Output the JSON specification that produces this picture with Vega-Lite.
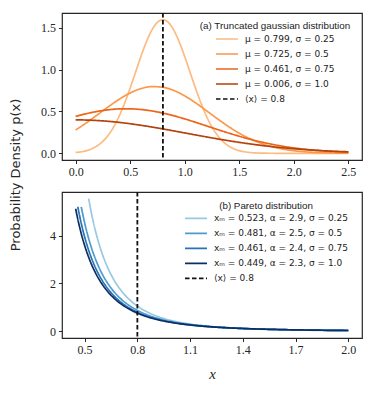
{
  "$schema": "https://vega.github.io/schema/vega-lite/v6.json",
  "padding": {"left": 8, "top": 11, "right": 0, "bottom": 0},
  "spacing": 32,
  "bounds": "flush",
  "config": {
    "view": {"stroke": "#262626", "strokeWidth": 1.2},
    "axis": {
      "domain": false, "grid": false, "ticks": true, "tickSize": 3.5, "tickColor": "#262626", "tickWidth": 1,
      "labelFont": "Liberation Serif", "labelFontSize": 12, "labelColor": "#262626", "labelPadding": 3,
      "titleFont": "DejaVu Sans", "titleFontSize": 13, "titleFontWeight": "normal", "titleColor": "#262626"
    },
    "legend": {
      "orient": "none", "padding": 0, "symbolType": "stroke", "symbolSize": 484, "symbolStrokeWidth": 1.7,
      "clipHeight": 14.3, "rowPadding": 0, "labelOffset": 6, "labelFont": "DejaVu Sans", "labelFontSize": 9, "labelColor": "#222222",
      "labelLimit": 300, "titleFont": "Liberation Sans", "titleFontSize": 9.8, "titleFontWeight": "normal", "titleColor": "#222222",
      "titleAnchor": "middle", "titleAlign": "center", "titlePadding": 0.75, "titleLimit": 300
    }
  },
  "resolve": {"scale": {"x": "independent", "y": "independent", "color": "independent", "strokeDash": "independent"}},
  "datasets": {
    "gauss": [
      {"s": "μ = 0.799, σ = 0.25", "x": 0.0, "p": 0.0097},
      {"s": "μ = 0.799, σ = 0.25", "x": 0.05, "p": 0.0179},
      {"s": "μ = 0.799, σ = 0.25", "x": 0.1, "p": 0.0320},
      {"s": "μ = 0.799, σ = 0.25", "x": 0.15, "p": 0.0549},
      {"s": "μ = 0.799, σ = 0.25", "x": 0.2, "p": 0.0905},
      {"s": "μ = 0.799, σ = 0.25", "x": 0.25, "p": 0.1432},
      {"s": "μ = 0.799, σ = 0.25", "x": 0.3, "p": 0.2177},
      {"s": "μ = 0.799, σ = 0.25", "x": 0.35, "p": 0.3180},
      {"s": "μ = 0.799, σ = 0.25", "x": 0.4, "p": 0.4466},
      {"s": "μ = 0.799, σ = 0.25", "x": 0.45, "p": 0.6023},
      {"s": "μ = 0.799, σ = 0.25", "x": 0.5, "p": 0.7805},
      {"s": "μ = 0.799, σ = 0.25", "x": 0.55, "p": 0.9717},
      {"s": "μ = 0.799, σ = 0.25", "x": 0.6, "p": 1.1625},
      {"s": "μ = 0.799, σ = 0.25", "x": 0.65, "p": 1.3361},
      {"s": "μ = 0.799, σ = 0.25", "x": 0.7, "p": 1.4754},
      {"s": "μ = 0.799, σ = 0.25", "x": 0.75, "p": 1.5654},
      {"s": "μ = 0.799, σ = 0.25", "x": 0.8, "p": 1.5958},
      {"s": "μ = 0.799, σ = 0.25", "x": 0.85, "p": 1.5629},
      {"s": "μ = 0.799, σ = 0.25", "x": 0.9, "p": 1.4707},
      {"s": "μ = 0.799, σ = 0.25", "x": 0.95, "p": 1.3297},
      {"s": "μ = 0.799, σ = 0.25", "x": 1.0, "p": 1.1551},
      {"s": "μ = 0.799, σ = 0.25", "x": 1.05, "p": 0.9640},
      {"s": "μ = 0.799, σ = 0.25", "x": 1.1, "p": 0.7730},
      {"s": "μ = 0.799, σ = 0.25", "x": 1.15, "p": 0.5956},
      {"s": "μ = 0.799, σ = 0.25", "x": 1.2, "p": 0.4409},
      {"s": "μ = 0.799, σ = 0.25", "x": 1.25, "p": 0.3136},
      {"s": "μ = 0.799, σ = 0.25", "x": 1.3, "p": 0.2143},
      {"s": "μ = 0.799, σ = 0.25", "x": 1.35, "p": 0.1407},
      {"s": "μ = 0.799, σ = 0.25", "x": 1.4, "p": 0.0887},
      {"s": "μ = 0.799, σ = 0.25", "x": 1.45, "p": 0.0537},
      {"s": "μ = 0.799, σ = 0.25", "x": 1.5, "p": 0.0313},
      {"s": "μ = 0.799, σ = 0.25", "x": 1.6, "p": 0.0094},
      {"s": "μ = 0.799, σ = 0.25", "x": 1.7, "p": 0.0024},
      {"s": "μ = 0.799, σ = 0.25", "x": 1.8, "p": 0.0005},
      {"s": "μ = 0.799, σ = 0.25", "x": 1.9, "p": 0.0001},
      {"s": "μ = 0.799, σ = 0.25", "x": 2.0, "p": 0.0},
      {"s": "μ = 0.799, σ = 0.25", "x": 2.25, "p": 0.0},
      {"s": "μ = 0.799, σ = 0.25", "x": 2.5, "p": 0.0},
      {"s": "μ = 0.725, σ = 0.5", "x": 0.0, "p": 0.2788},
      {"s": "μ = 0.725, σ = 0.5", "x": 0.1, "p": 0.3653},
      {"s": "μ = 0.725, σ = 0.5", "x": 0.2, "p": 0.4598},
      {"s": "μ = 0.725, σ = 0.5", "x": 0.3, "p": 0.5560},
      {"s": "μ = 0.725, σ = 0.5", "x": 0.4, "p": 0.6459},
      {"s": "μ = 0.725, σ = 0.5", "x": 0.5, "p": 0.7210},
      {"s": "μ = 0.725, σ = 0.5", "x": 0.6, "p": 0.7733},
      {"s": "μ = 0.725, σ = 0.5", "x": 0.7, "p": 0.7969},
      {"s": "μ = 0.725, σ = 0.5", "x": 0.8, "p": 0.7890},
      {"s": "μ = 0.725, σ = 0.5", "x": 0.9, "p": 0.7505},
      {"s": "μ = 0.725, σ = 0.5", "x": 1.0, "p": 0.6859},
      {"s": "μ = 0.725, σ = 0.5", "x": 1.1, "p": 0.6023},
      {"s": "μ = 0.725, σ = 0.5", "x": 1.2, "p": 0.5081},
      {"s": "μ = 0.725, σ = 0.5", "x": 1.3, "p": 0.4119},
      {"s": "μ = 0.725, σ = 0.5", "x": 1.4, "p": 0.3208},
      {"s": "μ = 0.725, σ = 0.5", "x": 1.5, "p": 0.2400},
      {"s": "μ = 0.725, σ = 0.5", "x": 1.6, "p": 0.1726},
      {"s": "μ = 0.725, σ = 0.5", "x": 1.7, "p": 0.1192},
      {"s": "μ = 0.725, σ = 0.5", "x": 1.8, "p": 0.0791},
      {"s": "μ = 0.725, σ = 0.5", "x": 1.9, "p": 0.0504},
      {"s": "μ = 0.725, σ = 0.5", "x": 2.0, "p": 0.0309},
      {"s": "μ = 0.725, σ = 0.5", "x": 2.1, "p": 0.0182},
      {"s": "μ = 0.725, σ = 0.5", "x": 2.2, "p": 0.0103},
      {"s": "μ = 0.725, σ = 0.5", "x": 2.3, "p": 0.0056},
      {"s": "μ = 0.725, σ = 0.5", "x": 2.4, "p": 0.0029},
      {"s": "μ = 0.725, σ = 0.5", "x": 2.5, "p": 0.0015},
      {"s": "μ = 0.461, σ = 0.75", "x": 0.0, "p": 0.4404},
      {"s": "μ = 0.461, σ = 0.75", "x": 0.1, "p": 0.4737},
      {"s": "μ = 0.461, σ = 0.75", "x": 0.2, "p": 0.5007},
      {"s": "μ = 0.461, σ = 0.75", "x": 0.3, "p": 0.5198},
      {"s": "μ = 0.461, σ = 0.75", "x": 0.4, "p": 0.5302},
      {"s": "μ = 0.461, σ = 0.75", "x": 0.5, "p": 0.5312},
      {"s": "μ = 0.461, σ = 0.75", "x": 0.6, "p": 0.5229},
      {"s": "μ = 0.461, σ = 0.75", "x": 0.7, "p": 0.5056},
      {"s": "μ = 0.461, σ = 0.75", "x": 0.8, "p": 0.4803},
      {"s": "μ = 0.461, σ = 0.75", "x": 0.9, "p": 0.4482},
      {"s": "μ = 0.461, σ = 0.75", "x": 1.0, "p": 0.4109},
      {"s": "μ = 0.461, σ = 0.75", "x": 1.1, "p": 0.3700},
      {"s": "μ = 0.461, σ = 0.75", "x": 1.2, "p": 0.3274},
      {"s": "μ = 0.461, σ = 0.75", "x": 1.3, "p": 0.2845},
      {"s": "μ = 0.461, σ = 0.75", "x": 1.4, "p": 0.2429},
      {"s": "μ = 0.461, σ = 0.75", "x": 1.5, "p": 0.2038},
      {"s": "μ = 0.461, σ = 0.75", "x": 1.6, "p": 0.1679},
      {"s": "μ = 0.461, σ = 0.75", "x": 1.7, "p": 0.1359},
      {"s": "μ = 0.461, σ = 0.75", "x": 1.8, "p": 0.1081},
      {"s": "μ = 0.461, σ = 0.75", "x": 1.9, "p": 0.0844},
      {"s": "μ = 0.461, σ = 0.75", "x": 2.0, "p": 0.0648},
      {"s": "μ = 0.461, σ = 0.75", "x": 2.1, "p": 0.0488},
      {"s": "μ = 0.461, σ = 0.75", "x": 2.2, "p": 0.0362},
      {"s": "μ = 0.461, σ = 0.75", "x": 2.3, "p": 0.0263},
      {"s": "μ = 0.461, σ = 0.75", "x": 2.4, "p": 0.0188},
      {"s": "μ = 0.461, σ = 0.75", "x": 2.5, "p": 0.0132},
      {"s": "μ = 0.006, σ = 1.0", "x": 0.0, "p": 0.3989},
      {"s": "μ = 0.006, σ = 1.0", "x": 0.1, "p": 0.3972},
      {"s": "μ = 0.006, σ = 1.0", "x": 0.2, "p": 0.3915},
      {"s": "μ = 0.006, σ = 1.0", "x": 0.3, "p": 0.3821},
      {"s": "μ = 0.006, σ = 1.0", "x": 0.4, "p": 0.3691},
      {"s": "μ = 0.006, σ = 1.0", "x": 0.5, "p": 0.3531},
      {"s": "μ = 0.006, σ = 1.0", "x": 0.6, "p": 0.3344},
      {"s": "μ = 0.006, σ = 1.0", "x": 0.7, "p": 0.3136},
      {"s": "μ = 0.006, σ = 1.0", "x": 0.8, "p": 0.2911},
      {"s": "μ = 0.006, σ = 1.0", "x": 0.9, "p": 0.2675},
      {"s": "μ = 0.006, σ = 1.0", "x": 1.0, "p": 0.2434},
      {"s": "μ = 0.006, σ = 1.0", "x": 1.1, "p": 0.2193},
      {"s": "μ = 0.006, σ = 1.0", "x": 1.2, "p": 0.1956},
      {"s": "μ = 0.006, σ = 1.0", "x": 1.3, "p": 0.1727},
      {"s": "μ = 0.006, σ = 1.0", "x": 1.4, "p": 0.1510},
      {"s": "μ = 0.006, σ = 1.0", "x": 1.5, "p": 0.1307},
      {"s": "μ = 0.006, σ = 1.0", "x": 1.6, "p": 0.1120},
      {"s": "μ = 0.006, σ = 1.0", "x": 1.7, "p": 0.0950},
      {"s": "μ = 0.006, σ = 1.0", "x": 1.8, "p": 0.0798},
      {"s": "μ = 0.006, σ = 1.0", "x": 1.9, "p": 0.0664},
      {"s": "μ = 0.006, σ = 1.0", "x": 2.0, "p": 0.0546},
      {"s": "μ = 0.006, σ = 1.0", "x": 2.1, "p": 0.0445},
      {"s": "μ = 0.006, σ = 1.0", "x": 2.2, "p": 0.0359},
      {"s": "μ = 0.006, σ = 1.0", "x": 2.3, "p": 0.0287},
      {"s": "μ = 0.006, σ = 1.0", "x": 2.4, "p": 0.0227},
      {"s": "μ = 0.006, σ = 1.0", "x": 2.5, "p": 0.0178}
    ],
    "pareto": [
      {"s": "xₘ = 0.523, α = 2.9, σ = 0.25", "x": 0.523, "p": 5.5448},
      {"s": "xₘ = 0.523, α = 2.9, σ = 0.25", "x": 0.54, "p": 4.8950},
      {"s": "xₘ = 0.523, α = 2.9, σ = 0.25", "x": 0.56, "p": 4.2474},
      {"s": "xₘ = 0.523, α = 2.9, σ = 0.25", "x": 0.58, "p": 3.7042},
      {"s": "xₘ = 0.523, α = 2.9, σ = 0.25", "x": 0.6, "p": 3.2454},
      {"s": "xₘ = 0.523, α = 2.9, σ = 0.25", "x": 0.63, "p": 2.6831},
      {"s": "xₘ = 0.523, α = 2.9, σ = 0.25", "x": 0.66, "p": 2.2380},
      {"s": "xₘ = 0.523, α = 2.9, σ = 0.25", "x": 0.7, "p": 1.7790},
      {"s": "xₘ = 0.523, α = 2.9, σ = 0.25", "x": 0.75, "p": 1.3593},
      {"s": "xₘ = 0.523, α = 2.9, σ = 0.25", "x": 0.8, "p": 1.0568},
      {"s": "xₘ = 0.523, α = 2.9, σ = 0.25", "x": 0.85, "p": 0.8343},
      {"s": "xₘ = 0.523, α = 2.9, σ = 0.25", "x": 0.9, "p": 0.6676},
      {"s": "xₘ = 0.523, α = 2.9, σ = 0.25", "x": 1.0, "p": 0.4426},
      {"s": "xₘ = 0.523, α = 2.9, σ = 0.25", "x": 1.1, "p": 0.3052},
      {"s": "xₘ = 0.523, α = 2.9, σ = 0.25", "x": 1.2, "p": 0.2174},
      {"s": "xₘ = 0.523, α = 2.9, σ = 0.25", "x": 1.3, "p": 0.1591},
      {"s": "xₘ = 0.523, α = 2.9, σ = 0.25", "x": 1.4, "p": 0.1192},
      {"s": "xₘ = 0.523, α = 2.9, σ = 0.25", "x": 1.6, "p": 0.0708},
      {"s": "xₘ = 0.523, α = 2.9, σ = 0.25", "x": 1.8, "p": 0.0447},
      {"s": "xₘ = 0.523, α = 2.9, σ = 0.25", "x": 2.0, "p": 0.0297},
      {"s": "xₘ = 0.481, α = 2.5, σ = 0.5", "x": 0.481, "p": 5.1976},
      {"s": "xₘ = 0.481, α = 2.5, σ = 0.5", "x": 0.5, "p": 4.5385},
      {"s": "xₘ = 0.481, α = 2.5, σ = 0.5", "x": 0.52, "p": 3.9563},
      {"s": "xₘ = 0.481, α = 2.5, σ = 0.5", "x": 0.54, "p": 3.4669},
      {"s": "xₘ = 0.481, α = 2.5, σ = 0.5", "x": 0.56, "p": 3.0523},
      {"s": "xₘ = 0.481, α = 2.5, σ = 0.5", "x": 0.58, "p": 2.6997},
      {"s": "xₘ = 0.481, α = 2.5, σ = 0.5", "x": 0.6, "p": 2.3976},
      {"s": "xₘ = 0.481, α = 2.5, σ = 0.5", "x": 0.63, "p": 2.0212},
      {"s": "xₘ = 0.481, α = 2.5, σ = 0.5", "x": 0.66, "p": 1.7175},
      {"s": "xₘ = 0.481, α = 2.5, σ = 0.5", "x": 0.7, "p": 1.3978},
      {"s": "xₘ = 0.481, α = 2.5, σ = 0.5", "x": 0.75, "p": 1.0979},
      {"s": "xₘ = 0.481, α = 2.5, σ = 0.5", "x": 0.8, "p": 0.8759},
      {"s": "xₘ = 0.481, α = 2.5, σ = 0.5", "x": 0.85, "p": 0.7085},
      {"s": "xₘ = 0.481, α = 2.5, σ = 0.5", "x": 0.9, "p": 0.5801},
      {"s": "xₘ = 0.481, α = 2.5, σ = 0.5", "x": 1.0, "p": 0.4011},
      {"s": "xₘ = 0.481, α = 2.5, σ = 0.5", "x": 1.1, "p": 0.2874},
      {"s": "xₘ = 0.481, α = 2.5, σ = 0.5", "x": 1.2, "p": 0.2119},
      {"s": "xₘ = 0.481, α = 2.5, σ = 0.5", "x": 1.3, "p": 0.1601},
      {"s": "xₘ = 0.481, α = 2.5, σ = 0.5", "x": 1.4, "p": 0.1236},
      {"s": "xₘ = 0.481, α = 2.5, σ = 0.5", "x": 1.6, "p": 0.0774},
      {"s": "xₘ = 0.481, α = 2.5, σ = 0.5", "x": 1.8, "p": 0.0513},
      {"s": "xₘ = 0.481, α = 2.5, σ = 0.5", "x": 2.0, "p": 0.0355},
      {"s": "xₘ = 0.461, α = 2.4, σ = 0.75", "x": 0.461, "p": 5.2061},
      {"s": "xₘ = 0.461, α = 2.4, σ = 0.75", "x": 0.48, "p": 4.5381},
      {"s": "xₘ = 0.461, α = 2.4, σ = 0.75", "x": 0.5, "p": 3.9500},
      {"s": "xₘ = 0.461, α = 2.4, σ = 0.75", "x": 0.52, "p": 3.4570},
      {"s": "xₘ = 0.461, α = 2.4, σ = 0.75", "x": 0.54, "p": 3.0405},
      {"s": "xₘ = 0.461, α = 2.4, σ = 0.75", "x": 0.56, "p": 2.6870},
      {"s": "xₘ = 0.461, α = 2.4, σ = 0.75", "x": 0.58, "p": 2.3847},
      {"s": "xₘ = 0.461, α = 2.4, σ = 0.75", "x": 0.6, "p": 2.1252},
      {"s": "xₘ = 0.461, α = 2.4, σ = 0.75", "x": 0.63, "p": 1.8003},
      {"s": "xₘ = 0.461, α = 2.4, σ = 0.75", "x": 0.66, "p": 1.5369},
      {"s": "xₘ = 0.461, α = 2.4, σ = 0.75", "x": 0.7, "p": 1.2582},
      {"s": "xₘ = 0.461, α = 2.4, σ = 0.75", "x": 0.75, "p": 0.9951},
      {"s": "xₘ = 0.461, α = 2.4, σ = 0.75", "x": 0.8, "p": 0.7991},
      {"s": "xₘ = 0.461, α = 2.4, σ = 0.75", "x": 0.85, "p": 0.6502},
      {"s": "xₘ = 0.461, α = 2.4, σ = 0.75", "x": 0.9, "p": 0.5354},
      {"s": "xₘ = 0.461, α = 2.4, σ = 0.75", "x": 1.0, "p": 0.3742},
      {"s": "xₘ = 0.461, α = 2.4, σ = 0.75", "x": 1.1, "p": 0.2706},
      {"s": "xₘ = 0.461, α = 2.4, σ = 0.75", "x": 1.2, "p": 0.2013},
      {"s": "xₘ = 0.461, α = 2.4, σ = 0.75", "x": 1.3, "p": 0.1534},
      {"s": "xₘ = 0.461, α = 2.4, σ = 0.75", "x": 1.4, "p": 0.1192},
      {"s": "xₘ = 0.461, α = 2.4, σ = 0.75", "x": 1.6, "p": 0.0757},
      {"s": "xₘ = 0.461, α = 2.4, σ = 0.75", "x": 1.8, "p": 0.0507},
      {"s": "xₘ = 0.461, α = 2.4, σ = 0.75", "x": 2.0, "p": 0.0354},
      {"s": "xₘ = 0.449, α = 2.3, σ = 1.0", "x": 0.449, "p": 5.1225},
      {"s": "xₘ = 0.449, α = 2.3, σ = 1.0", "x": 0.46, "p": 4.7296},
      {"s": "xₘ = 0.449, α = 2.3, σ = 1.0", "x": 0.48, "p": 4.1096},
      {"s": "xₘ = 0.449, α = 2.3, σ = 1.0", "x": 0.5, "p": 3.5918},
      {"s": "xₘ = 0.449, α = 2.3, σ = 1.0", "x": 0.52, "p": 3.1557},
      {"s": "xₘ = 0.449, α = 2.3, σ = 1.0", "x": 0.54, "p": 2.7862},
      {"s": "xₘ = 0.449, α = 2.3, σ = 1.0", "x": 0.56, "p": 2.4710},
      {"s": "xₘ = 0.449, α = 2.3, σ = 1.0", "x": 0.58, "p": 2.2008},
      {"s": "xₘ = 0.449, α = 2.3, σ = 1.0", "x": 0.6, "p": 1.9679},
      {"s": "xₘ = 0.449, α = 2.3, σ = 1.0", "x": 0.63, "p": 1.6752},
      {"s": "xₘ = 0.449, α = 2.3, σ = 1.0", "x": 0.66, "p": 1.4368},
      {"s": "xₘ = 0.449, α = 2.3, σ = 1.0", "x": 0.7, "p": 1.1832},
      {"s": "xₘ = 0.449, α = 2.3, σ = 1.0", "x": 0.75, "p": 0.9423},
      {"s": "xₘ = 0.449, α = 2.3, σ = 1.0", "x": 0.8, "p": 0.7615},
      {"s": "xₘ = 0.449, α = 2.3, σ = 1.0", "x": 0.85, "p": 0.6235},
      {"s": "xₘ = 0.449, α = 2.3, σ = 1.0", "x": 0.9, "p": 0.5163},
      {"s": "xₘ = 0.449, α = 2.3, σ = 1.0", "x": 1.0, "p": 0.3647},
      {"s": "xₘ = 0.449, α = 2.3, σ = 1.0", "x": 1.1, "p": 0.2663},
      {"s": "xₘ = 0.449, α = 2.3, σ = 1.0", "x": 1.2, "p": 0.1998},
      {"s": "xₘ = 0.449, α = 2.3, σ = 1.0", "x": 1.3, "p": 0.1534},
      {"s": "xₘ = 0.449, α = 2.3, σ = 1.0", "x": 1.4, "p": 0.1201},
      {"s": "xₘ = 0.449, α = 2.3, σ = 1.0", "x": 1.6, "p": 0.0773},
      {"s": "xₘ = 0.449, α = 2.3, σ = 1.0", "x": 1.8, "p": 0.0524},
      {"s": "xₘ = 0.449, α = 2.3, σ = 1.0", "x": 2.0, "p": 0.0370}
    ],
    "mean": [
      {"s": "⟨x⟩ = 0.8", "x": 0.8}
    ]
  },
  "vconcat": [
    {
      "width": 300,
      "height": 147,
      "layer": [
        {
          "data": {"name": "gauss"},
          "mark": {"type": "line", "strokeWidth": 1.7, "interpolate": "monotone"},
          "encoding": {
            "x": {"field": "x", "type": "quantitative",
                  "scale": {"domain": [-0.125, 2.625], "nice": false, "zero": false},
                  "axis": {"values": [0, 0.5, 1, 1.5, 2, 2.5], "format": ".1f", "title": null, "labelFont": "Liberation Serif"}},
            "y": {"field": "p", "type": "quantitative",
                  "scale": {"domain": [-0.08, 1.676], "nice": false, "zero": false},
                  "axis": {"values": [0, 0.5, 1, 1.5], "format": ".1f", "title": "Probability Density p(x)", "labelFont": "Liberation Serif",
                           "titleY": 161.5, "titleX": -40, "titleBaseline": "bottom", "titleAngle": 270}},
            "color": {"field": "s", "type": "nominal",
                      "scale": {"domain": ["μ = 0.799, σ = 0.25", "μ = 0.725, σ = 0.5", "μ = 0.461, σ = 0.75", "μ = 0.006, σ = 1.0", "⟨x⟩ = 0.8"],
                                "range": ["#fdbb80", "#fd9748", "#ec6519", "#b3420c", "#111111"]},
                      "legend": {"title": "(a) Truncated gaussian distribution", "legendX": 138, "legendY": 8.3}},
            "strokeDash": {"field": "s", "type": "nominal",
                      "scale": {"domain": ["μ = 0.799, σ = 0.25", "μ = 0.725, σ = 0.5", "μ = 0.461, σ = 0.75", "μ = 0.006, σ = 1.0", "⟨x⟩ = 0.8"],
                                "range": [[1, 0], [1, 0], [1, 0], [1, 0], [4.5, 2.5]]},
                      "legend": {"title": "(a) Truncated gaussian distribution", "legendX": 138, "legendY": 8.3}}
          }
        },
        {
          "data": {"name": "mean"},
          "mark": {"type": "rule", "strokeWidth": 1.8},
          "encoding": {
            "x": {"field": "x", "type": "quantitative"},
            "color": {"field": "s", "type": "nominal",
                      "scale": {"domain": ["μ = 0.799, σ = 0.25", "μ = 0.725, σ = 0.5", "μ = 0.461, σ = 0.75", "μ = 0.006, σ = 1.0", "⟨x⟩ = 0.8"],
                                "range": ["#fdbb80", "#fd9748", "#ec6519", "#b3420c", "#111111"]},
                      "legend": {"title": "(a) Truncated gaussian distribution", "legendX": 138, "legendY": 8.3}},
            "strokeDash": {"field": "s", "type": "nominal",
                      "scale": {"domain": ["μ = 0.799, σ = 0.25", "μ = 0.725, σ = 0.5", "μ = 0.461, σ = 0.75", "μ = 0.006, σ = 1.0", "⟨x⟩ = 0.8"],
                                "range": [[1, 0], [1, 0], [1, 0], [1, 0], [4.5, 2.5]]},
                      "legend": {"title": "(a) Truncated gaussian distribution", "legendX": 138, "legendY": 8.3}}
          }
        }
      ]
    },
    {
      "width": 300,
      "height": 146,
      "layer": [
        {
          "data": {"name": "pareto"},
          "mark": {"type": "line", "strokeWidth": 1.7, "interpolate": "monotone"},
          "encoding": {
            "x": {"field": "x", "type": "quantitative",
                  "scale": {"domain": [0.3714, 2.0776], "nice": false, "zero": false},
                  "axis": {"values": [0.5, 0.8, 1.1, 1.4, 1.7, 2.0], "format": ".1f", "title": "x", "labelFont": "Liberation Serif",
                           "titleFont": "Liberation Serif", "titleFontStyle": "italic", "titleFontSize": 15, "titlePadding": 11}},
            "y": {"field": "p", "type": "quantitative",
                  "scale": {"domain": [-0.277, 5.822], "nice": false, "zero": false},
                  "axis": {"values": [0, 2, 4], "format": "d", "title": null, "labelFont": "Liberation Serif"}},
            "color": {"field": "s", "type": "nominal",
                      "scale": {"domain": ["xₘ = 0.523, α = 2.9, σ = 0.25", "xₘ = 0.481, α = 2.5, σ = 0.5", "xₘ = 0.461, α = 2.4, σ = 0.75", "xₘ = 0.449, α = 2.3, σ = 1.0", "⟨x⟩ = 0.8"],
                                "range": ["#98c8e0", "#4d9bcf", "#2a72b8", "#0b2f64", "#111111"]},
                      "legend": {"title": "(b) Pareto distribution", "legendX": 122, "legendY": 8.6}},
            "strokeDash": {"field": "s", "type": "nominal",
                      "scale": {"domain": ["xₘ = 0.523, α = 2.9, σ = 0.25", "xₘ = 0.481, α = 2.5, σ = 0.5", "xₘ = 0.461, α = 2.4, σ = 0.75", "xₘ = 0.449, α = 2.3, σ = 1.0", "⟨x⟩ = 0.8"],
                                "range": [[1, 0], [1, 0], [1, 0], [1, 0], [4.5, 2.5]]},
                      "legend": {"title": "(b) Pareto distribution", "legendX": 122, "legendY": 8.6}}
          }
        },
        {
          "data": {"name": "mean"},
          "mark": {"type": "rule", "strokeWidth": 1.8},
          "encoding": {
            "x": {"field": "x", "type": "quantitative"},
            "color": {"field": "s", "type": "nominal",
                      "scale": {"domain": ["xₘ = 0.523, α = 2.9, σ = 0.25", "xₘ = 0.481, α = 2.5, σ = 0.5", "xₘ = 0.461, α = 2.4, σ = 0.75", "xₘ = 0.449, α = 2.3, σ = 1.0", "⟨x⟩ = 0.8"],
                                "range": ["#98c8e0", "#4d9bcf", "#2a72b8", "#0b2f64", "#111111"]},
                      "legend": {"title": "(b) Pareto distribution", "legendX": 122, "legendY": 8.6}},
            "strokeDash": {"field": "s", "type": "nominal",
                      "scale": {"domain": ["xₘ = 0.523, α = 2.9, σ = 0.25", "xₘ = 0.481, α = 2.5, σ = 0.5", "xₘ = 0.461, α = 2.4, σ = 0.75", "xₘ = 0.449, α = 2.3, σ = 1.0", "⟨x⟩ = 0.8"],
                                "range": [[1, 0], [1, 0], [1, 0], [1, 0], [4.5, 2.5]]},
                      "legend": {"title": "(b) Pareto distribution", "legendX": 122, "legendY": 8.6}}
          }
        }
      ]
    }
  ]
}
